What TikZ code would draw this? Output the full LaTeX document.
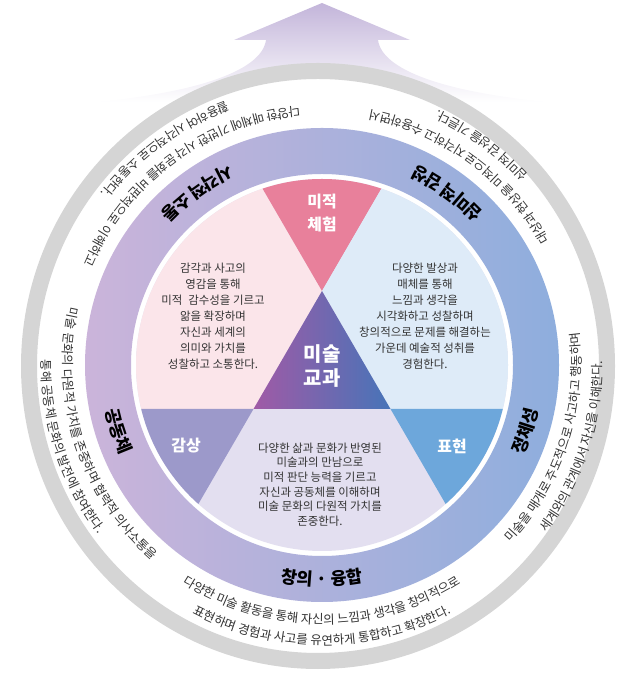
\documentclass[tikz,border=0pt]{standalone}
\usepackage{fontspec}
\newfontfamily\cjk{Noto Sans CJK KR}
\usetikzlibrary{decorations.text,calc}
\definecolor{txt}{HTML}{333333}
\definecolor{pinkT}{HTML}{E8809B}
\definecolor{pinkL}{HTML}{FBE5EA}
\definecolor{blueL}{HTML}{DEEBF8}
\definecolor{purM}{HTML}{9C99CA}
\definecolor{bluM}{HTML}{6DA7DB}
\definecolor{lavL}{HTML}{E3DFF0}
\definecolor{ringL}{HTML}{CBB4DA}
\definecolor{ringR}{HTML}{8EAEDD}
\definecolor{grayR}{HTML}{D5D5D5}
\definecolor{arrowT}{HTML}{C3B5DA}
\definecolor{triL}{HTML}{A05AA6}
\definecolor{triR}{HTML}{4774B8}
\tikzset{
  regiontext/.style={font=\cjk\fontsize{11.5}{16}\selectfont, text=txt, align=center, inner sep=0pt},
  trilabel/.style={font=\cjk\bfseries\fontsize{16}{24}\selectfont, text=white, align=center, inner sep=0pt},
}
% #1 radius, #2 middle angle, #3 format, #4 text
\newcommand\arctext[4]{%
  \path[decorate,decoration={text along path, text align=center, text={|#3|#4}}]
    ($(C)+(#2-90:#1)$) arc[start angle=#2-90, end angle=#2+90, radius=#1];}
\newcommand\ringfmt{\cjk\bfseries\fontsize{17.5}{20}\selectfont\color{black}}
\newcommand\outfmt{\cjk\fontsize{12.5}{14}\selectfont\color{txt}}
\begin{document}
\begin{tikzpicture}[x=1bp,y=1bp]
\useasboundingbox (0,0) rectangle (627,680);
\coordinate (C) at (322,315);
% arrow
\shade[top color=arrowT, bottom color=white]
  (322,677) -- (234,640) -- (266,640) .. controls (262,610) and (200,588) .. (96,578)
  -- (548,578) .. controls (444,588) and (382,610) .. (378,640) -- (410,640) -- cycle;
% gray ring
\fill[white] (318,314) ellipse[x radius=282, y radius=288];
\draw[grayR, line width=16bp] (318,314) ellipse[x radius=289, y radius=295];
% coloured ring
\shade[even odd rule, left color=ringL, right color=ringR]
  (C) circle[radius=237] (C) circle[radius=191];
% disc
\coordinate (A) at (322,389);
\coordinate (BL) at (253.5,271);
\coordinate (BR) at (390.5,271);
\coordinate (P1) at (116.5,743);
\coordinate (P2) at (527.5,743);
\coordinate (Q1) at (48,-83);
\coordinate (Q2) at (596,-83);
\begin{scope}
  \clip (C) circle[radius=186];
  \fill[lavL] (C) circle[radius=190];
  \fill[pinkL] (-100,271) -- (BL) -- (A) -- (P1) -- (-100,743) -- cycle;
  \fill[pinkT] (A) -- (P1) -- (P2) -- cycle;
  \fill[blueL] (800,271) -- (BR) -- (A) -- (P2) -- (800,743) -- cycle;
  \fill[purM] (-100,271) -- (BL) -- (Q1) -- (-100,-100) -- cycle;
  \fill[bluM] (800,271) -- (BR) -- (Q2) -- (800,-100) -- cycle;
  \shade[left color=triL, right color=triR] (A) -- (BL) -- (BR) -- cycle;
\end{scope}
% labels in the disc
\node[trilabel] (mijeok) at (322,467) {미적\\체험};
\node[trilabel, font=\cjk\bfseries\fontsize{20}{24}\selectfont] (misul) at (322,314) {미술\\교과};
\node[trilabel] (gamsang) at (186,234) {감상};
\node[trilabel] (pyohyeon) at (452,234) {표현};
\node[regiontext] (tUL) at (213,364) {감각과 사고의\\영감을 통해\\미적\hspace{0.3em} 감수성을 기르고\\앎을 확장하며\\자신과 세계의\\의미와 가치를\\성찰하고 소통한다.};
\node[regiontext] (tUR) at (425,364) {다양한 발상과\\매체를 통해\\느낌과 생각을\\시각화하고 성찰하며\\창의적으로 문제를 해결하는\\가운데 예술적 성취를\\경험한다.};
\node[regiontext, font=\cjk\fontsize{11.5}{14.7}\selectfont] (tB) at (320,195.5) {다양한 삶과 문화가 반영된\\미술과의 만남으로\\미적 판단 능력을 기르고\\자신과 공동체를 이해하며\\미술 문화의 다원적 가치를\\존중한다.};
% ring labels
\arctext{221}{270}{\ringfmt}{창의 · 융합}
\arctext{221}{342}{\ringfmt}{정체성}
\arctext{221}{54}{\ringfmt}{심미적 감성}
\arctext{221}{126}{\ringfmt}{시각적 소통}
\arctext{221}{198}{\ringfmt}{공동체}
% outer texts
\arctext{259}{270}{\outfmt}{다양한 미술 활동을 통해 자신의 느낌과 생각을 창의적으로}
\arctext{280}{270}{\outfmt}{표현하며 경험과 사고를 유연하게 통합하고 확장한다.}
\arctext{259}{342}{\outfmt}{미술을 매개로 주도적으로 사고하고 행동하며}
\arctext{280}{342}{\outfmt}{세계와의 관계에서 자신을 이해한다.}
\arctext{259}{54}{\outfmt}{대상과 현상을 미적으로 지각하고 수용하면서}
\arctext{280}{54}{\outfmt}{심미적 감성을 기른다.}
\arctext{259}{126}{\outfmt}{다양한 매체에 기반한 시각 문화를 비판적으로 이해하고}
\arctext{280}{126}{\outfmt}{활용하여 시각적으로 소통한다.}
\arctext{259}{198}{\outfmt}{미술 문화의 다원적 가치를 존중하며 협력적 의사소통을}
\arctext{280}{198}{\outfmt}{통해 공동체 문화의 발전에 참여한다.}
\end{tikzpicture}
\end{document}
